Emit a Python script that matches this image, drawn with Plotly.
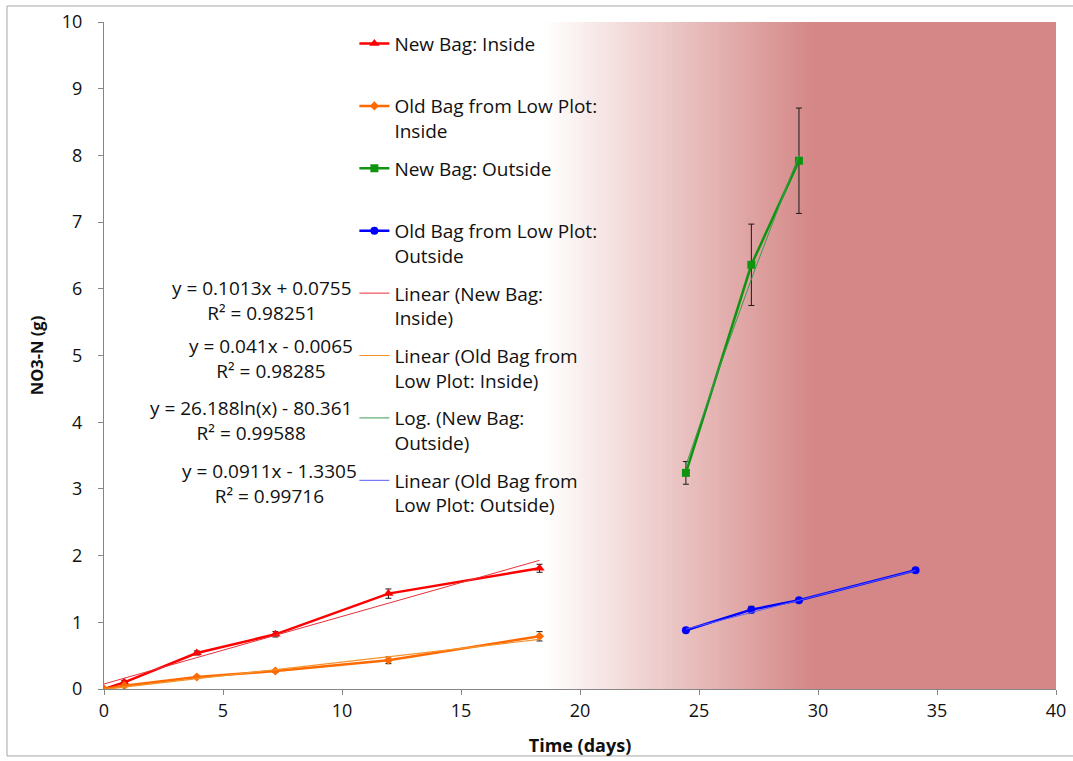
import numpy as np
import plotly.graph_objects as go

# ---- measured data -------------------------------------------------------
days_inside = [0, 0.85, 3.9, 7.2, 11.95, 18.3]
new_bag_inside = [0, 0.10, 0.54, 0.82, 1.43, 1.81]
new_bag_inside_err = [0.01, 0.03, 0.03, 0.04, 0.07, 0.06]
old_bag_inside = [0, 0.05, 0.18, 0.27, 0.43, 0.79]
old_bag_inside_err = [0.01, 0.02, 0.02, 0.02, 0.05, 0.07]

days_new_outside = [24.45, 27.2, 29.2]
new_bag_outside = [3.24, 6.36, 7.92]
new_bag_outside_err = [0.17, 0.61, 0.79]

days_old_outside = [24.45, 27.2, 29.2, 34.1]
old_bag_outside = [0.88, 1.19, 1.33, 1.78]
old_bag_outside_err = [0.01, 0.05, 0.02, 0.01]

# ---- fitted trend-line coefficients -------------------------------------
lin_new_in = (0.1013, 0.0755)
lin_old_in = (0.041, -0.0065)
log_new_out = (26.188, -80.361)
lin_old_out = (0.0911, -1.3305)

fit_labels = [
    "y = 0.1013x + 0.0755<br>R² = 0.98251",
    "y = 0.041x - 0.0065<br>R² = 0.98285",
    "y = 26.188ln(x) - 80.361<br>R² = 0.99588",
    "y = 0.0911x - 1.3305<br>R² = 0.99716",
]
fit_label_x = [6.64, 7.02, 6.18, 6.97]
fit_label_y = [5.82, 4.95, 4.02, 3.08]

FONT = "Open Sans"
TXT = "#111111"
LABEL_SIZE = 19

RED = "#ff0000"
ORANGE = "#ff6a00"
GREEN = "#109410"
BLUE = "#0000ff"


def lin(coef, x):
    return coef[0] * np.asarray(x) + coef[1]


def logfit(coef, x):
    return coef[0] * np.log(np.asarray(x)) + coef[1]


def span(xs, n=40):
    return np.linspace(min(xs), max(xs), n)


def err(vals):
    return dict(type="data", array=vals, visible=True, color="#1a1a1a",
                thickness=1, width=3)


fig = go.Figure()

# shaded background: white fading into rose toward the later days
g0, g1, n_steps = 18.5, 29.8, 120
bg_edges = list(np.linspace(g0, g1, n_steps + 1)) + [40]
bg_level = [(i + 0.5) / n_steps for i in range(n_steps)] + [1.0]
fig.add_trace(go.Heatmap(
    x=bg_edges, y=[0, 10], z=[bg_level], zmin=0, zmax=1,
    colorscale=[[0, "rgb(255,255,255)"], [1, "rgb(212,135,134)"]],
    showscale=False, hoverinfo="skip", showlegend=False))

fig.add_trace(go.Scatter(
    x=days_inside, y=new_bag_inside, error_y=err(new_bag_inside_err),
    mode="lines+markers", name="New Bag: Inside<br> ", legendgroup="a",
    line=dict(color=RED, width=2.5),
    marker=dict(symbol="triangle-up", size=9, color=RED)))
fig.add_trace(go.Scatter(
    x=days_inside, y=old_bag_inside, error_y=err(old_bag_inside_err),
    mode="lines+markers", name="Old Bag from Low Plot:<br>Inside", legendgroup="b",
    line=dict(color=ORANGE, width=2.5),
    marker=dict(symbol="diamond", size=7, color=ORANGE)))
fig.add_trace(go.Scatter(
    x=days_new_outside, y=new_bag_outside, error_y=err(new_bag_outside_err),
    mode="lines+markers", name="New Bag: Outside<br> ", legendgroup="c",
    line=dict(color=GREEN, width=2.5),
    marker=dict(symbol="square", size=8, color=GREEN)))
fig.add_trace(go.Scatter(
    x=days_old_outside, y=old_bag_outside, error_y=err(old_bag_outside_err),
    mode="lines+markers", name="Old Bag from Low Plot:<br>Outside", legendgroup="d",
    line=dict(color=BLUE, width=2.5),
    marker=dict(symbol="circle", size=8, color=BLUE)))

# trend lines over each series' time range
xs = span(days_inside)
fig.add_trace(go.Scatter(x=xs, y=lin(lin_new_in, xs), mode="lines",
                         name="Linear (New Bag:<br>Inside)", legendgroup="e",
                         line=dict(color="#e8303a", width=1)))
fig.add_trace(go.Scatter(x=xs, y=lin(lin_old_in, xs), mode="lines",
                         name="Linear (Old Bag from<br>Low Plot: Inside)", legendgroup="f",
                         line=dict(color="#f5922a", width=1.2)))
xs = span(days_new_outside)
fig.add_trace(go.Scatter(x=xs, y=logfit(log_new_out, xs), mode="lines",
                         name="Log. (New Bag:<br>Outside)", legendgroup="g",
                         line=dict(color="#3a9a50", width=1)))
xs = span(days_old_outside)
fig.add_trace(go.Scatter(x=xs, y=lin(lin_old_out, xs), mode="lines",
                         name="Linear (Old Bag from<br>Low Plot: Outside)", legendgroup="h",
                         line=dict(color="#5a5aff", width=1)))

# chart frame
shapes = [dict(type="rect", xref="paper", yref="paper", x0=-0.1019, x1=1.03,
               y0=-0.1004, y1=1.024, line=dict(color="#a6a6a6", width=1),
               fillcolor="rgba(0,0,0,0)")]

annotations = [
    dict(x=x, y=y, xref="x", yref="y", text=t, showarrow=False, align="center",
         xanchor="center", yanchor="middle",
         font=dict(family=FONT, size=LABEL_SIZE, color=TXT))
    for t, x, y in zip(fit_labels, fit_label_x, fit_label_y)
]

fig.update_layout(
    width=1073, height=761,
    margin=dict(l=104, r=17, t=22, b=72),
    paper_bgcolor="white", plot_bgcolor="white",
    font=dict(family=FONT, size=17, color=TXT),
    shapes=shapes, annotations=annotations,
    legend=dict(x=0.263, y=0.996, xanchor="left", yanchor="top",
                bgcolor="rgba(0,0,0,0)", valign="top", tracegroupgap=10,
                font=dict(family=FONT, size=LABEL_SIZE, color=TXT)),
    xaxis=dict(range=[0, 40], dtick=5, showgrid=False, zeroline=False,
               automargin=False,
               showline=True, linecolor="#868686", linewidth=1,
               ticks="outside", ticklen=5, tickcolor="#868686",
               tickfont=dict(family=FONT, size=18, color=TXT),
               title=dict(text="<b>Time (days)</b>", standoff=18,
                          font=dict(family=FONT, size=18, color=TXT))),
    yaxis=dict(range=[0, 10], dtick=1, showgrid=False, zeroline=False,
               automargin=False, ticklabelstandoff=12,
               showline=True, linecolor="#868686", linewidth=1,
               ticks="outside", ticklen=5, tickcolor="#868686",
               tickfont=dict(family=FONT, size=18, color=TXT),
               title=dict(text="<b>NO3-N (g)</b>", standoff=14,
                          font=dict(family=FONT, size=16.5, color=TXT))),
)

fig.write_html("out.html")
